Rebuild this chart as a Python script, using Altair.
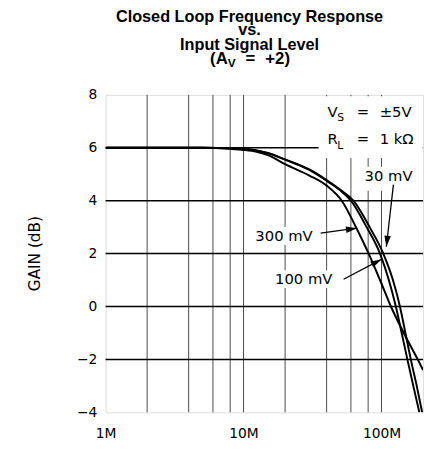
import altair as alt
import pandas as pd

# ---- data (frequency in MHz, gain in dB) ----
freq_30 = [1, 5, 8, 10, 12.4, 15, 20, 30, 40, 50, 62.6, 82, 103, 121, 136, 149, 163, 180, 197]
gain_30 = [6.0, 6.0, 5.98, 5.95, 5.9, 5.8, 5.56, 5.18, 4.78, 4.42, 4.0, 3.0, 2.0, 1.0, 0.0, -1.0, -2.0, -3.0, -4.0]

freq_100 = [1, 5, 8, 10, 12.4, 15, 20, 30, 40, 50, 60, 78, 97.5, 113, 127, 140, 154, 170, 188]
gain_100 = [6.0, 6.0, 5.98, 5.95, 5.9, 5.8, 5.55, 5.16, 4.75, 4.4, 4.0, 3.0, 2.0, 1.0, 0.0, -1.0, -2.0, -3.0, -4.0]

freq_300 = [1, 5, 8, 10, 12.4, 15, 20, 30, 40, 51.5, 66, 80.7, 97, 117, 145, 183, 200]
gain_300 = [6.0, 6.0, 5.96, 5.92, 5.85, 5.72, 5.38, 4.95, 4.57, 4.0, 2.95, 2.0, 1.03, 0.0, -1.0, -2.0, -2.4]

series_names = ["30 mV", "100 mV", "300 mV"]

grid_freqs = [2, 4, 6, 8, 10, 20, 40, 60, 80, 100]
grid_gains = [-2, 0, 2, 4, 6]
x_tick_values = [1, 10, 100]
y_tick_values = [-4, -2, 0, 2, 4, 6, 8]

rows = []
for name, fs, gs in zip(series_names, [freq_30, freq_100, freq_300], [gain_30, gain_100, gain_300]):
    for f, g in zip(fs, gs):
        rows.append({"freq": f, "gain": g, "series": name})
curves_df = pd.DataFrame(rows)

W, H = 322, 322
FONT = "DejaVu Sans"
TFONT = "Liberation Sans"

xs = alt.Scale(type="log", domain=[1, 200], nice=False)
ys = alt.Scale(domain=[-4, 8], nice=False, zero=False)

x_axis = alt.Axis(
    values=x_tick_values, labelExpr="datum.value + 'M'", grid=False, ticks=False,
    domain=False, labelFont=FONT, labelFontSize=14, labelColor="black",
    labelPadding=15, title=None, labelFlush=False)
y_axis = alt.Axis(
    values=y_tick_values, grid=False, ticks=False, domain=False,
    labelFont=FONT, labelFontSize=14, labelColor="black", labelPadding=9,
    title=None, labelFlush=False)

# gridlines
vgrid = alt.Chart(pd.DataFrame({"freq": grid_freqs})).mark_rule(
    color="#4a4a4a", strokeWidth=1
).encode(x=alt.X("freq:Q", scale=xs, axis=x_axis))

hgrid = alt.Chart(pd.DataFrame({"gain": grid_gains})).mark_rule(
    color="black", strokeWidth=1.5
).encode(y=alt.Y("gain:Q", scale=ys, axis=y_axis))

# white label backgrounds (mask the grid behind text)
mask_df = pd.DataFrame({
    "f1": [35.0, 72.2, 11.05, 15.9],
    "f2": [199.0, 175.6, 35.0, 47.1],
    "g1": [5.61, 4.38, 2.33, 0.695],
    "g2": [7.95, 5.28, 3.01, 1.37],
})
masks = alt.Chart(mask_df).mark_rect(fill="white").encode(
    x=alt.X("f1:Q", scale=xs, axis=x_axis), x2="f2:Q",
    y=alt.Y("g1:Q", scale=ys, axis=y_axis), y2="g2:Q",
)

curves = alt.Chart(curves_df).mark_line(
    color="black", strokeWidth=2, clip=True, interpolate="monotone"
).encode(
    x=alt.X("freq:Q", scale=xs, axis=x_axis),
    y=alt.Y("gain:Q", scale=ys, axis=y_axis),
    detail="series:N",
)

# arrows (annotation)
arrow_df = pd.DataFrame({
    "f1": [36.2, 53.1, 122.0],
    "g1": [2.77, 1.03, 4.61],
    "f2": [66.2, 99.8, 108.4],
    "g2": [2.96, 1.78, 2.26],
    "ang": [82.2, 62.5, 186.6],
})
arrow_lines = alt.Chart(arrow_df).mark_rule(color="black", strokeWidth=1.3).encode(
    x=alt.X("f1:Q", scale=xs, axis=x_axis), y=alt.Y("g1:Q", scale=ys, axis=y_axis),
    x2="f2:Q", y2="g2:Q",
)
arrow_heads = alt.Chart(arrow_df).mark_point(
    shape="M0,0L0.6,2L-0.6,2Z", filled=True, color="black", size=121, opacity=1
).encode(
    x=alt.X("f2:Q", scale=xs, axis=x_axis), y=alt.Y("g2:Q", scale=ys, axis=y_axis),
    angle=alt.Angle("ang:Q", scale=None),
)


def txt(s, x, y, size=15, align="left", font=FONT, weight="normal", angle=0):
    kw = dict(align=align, baseline="middle", font=font, fontSize=size,
              fontWeight=weight, color="black")
    if angle:
        kw["angle"] = angle
    return alt.Chart(pd.DataFrame({"t": [s]})).mark_text(**kw).encode(
        x=alt.value(x), y=alt.value(y), text="t:N")


texts = [
    # title
    txt("Closed Loop Frequency Response", 146, -79, 16.5, "center", TFONT, "bold"),
    txt("vs.", 146, -65.5, 16.5, "center", TFONT, "bold"),
    txt("Input Signal Level", 146, -51, 16.5, "center", TFONT, "bold"),
    txt("(A", 106, -36, 17, "left", TFONT, "bold"),
    txt("V", 124, -32, 12, "left", TFONT, "bold"),
    txt("=", 142, -36, 17, "left", TFONT, "bold"),
    txt("+2)", 162, -36, 17, "left", TFONT, "bold"),
    # y axis title
    txt("GAIN (dB)", -72, 161, 15.5, "center", FONT, "normal", 270),
    # conditions
    txt("V", 225, 17, 15),
    txt("S", 235, 24, 11),
    txt("=", 261, 17, 15, "center"),
    txt("±5V", 278, 17, 15),
    txt("R", 225, 45, 15),
    txt("L", 235, 52, 11),
    txt("=", 261, 45, 15, "center"),
    txt("1 kΩ", 278, 45, 15),
    # series labels
    txt("30 mV", 287, 82, 15, "center"),
    txt("300 mV", 181, 143, 15, "center"),
    txt("100 mV", 201, 187, 15, "center"),
]

chart = alt.layer(vgrid, hgrid, masks, curves, arrow_lines, arrow_heads, *texts).properties(
    width=W, height=H,
    padding={"left": 99, "top": 85, "right": 3, "bottom": 28},
    autosize=alt.AutoSizeParams(type="none"),
).configure_view(stroke="black", strokeWidth=1.5).configure(background="white")

chart.save("out.html", embed_options={"renderer": "svg", "actions": False})
